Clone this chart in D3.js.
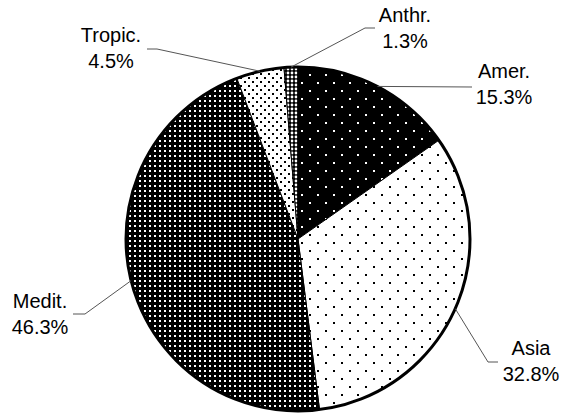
<!DOCTYPE html>
<html>
<head>
<meta charset="utf-8">
<script src="https://cdn.jsdelivr.net/npm/d3@7"></script>
<style>
  html, body { margin: 0; padding: 0; background: #fff; }
  svg { display: block; }
  text { font-family: "Liberation Sans", Arial, sans-serif; font-size: 20px; fill: #000; }
</style>
</head>
<body>
<script>
const categories = ["Amer.", "Asia", "Medit.", "Tropic.", "Anthr."];
const values = [15.3, 32.8, 46.3, 4.5, 1.3];
const valueLabels = ["15.3%", "32.8%", "46.3%", "4.5%", "1.3%"];

const W = 562, H = 417;
const cx = 298, cy = 239, R = 172;

const svg = d3.select("body").append("svg").attr("width", W).attr("height", H);
const defs = svg.append("defs");

function dotPattern(id, size, bg, fg, dots, dotSize) {
  const p = defs.append("pattern").attr("id", id).attr("patternUnits", "userSpaceOnUse")
    .attr("width", size[0]).attr("height", size[1]);
  p.append("rect").attr("width", size[0]).attr("height", size[1]).attr("fill", bg);
  dots.forEach(d => p.append("rect").attr("x", d[0]).attr("y", d[1])
    .attr("width", dotSize).attr("height", dotSize).attr("fill", fg));
}
dotPattern("pAmer", [16, 16], "#000", "#fff", [[3, 3], [11, 11]], 2);
dotPattern("pAsia", [16, 16], "#fff", "#000", [[3, 3], [11, 11]], 2);
dotPattern("pMedit", [5, 5], "#000", "#fff", [[1, 1]], 2);
dotPattern("pTropic", [8, 8], "#fff", "#000", [[2, 2], [6, 6]], 2);
(function () {
  const p = defs.append("pattern").attr("id", "pAnthr").attr("patternUnits", "userSpaceOnUse")
    .attr("width", 4).attr("height", 4);
  p.append("rect").attr("width", 4).attr("height", 4).attr("fill", "#000");
  p.append("circle").attr("cx", 2).attr("cy", 2).attr("r", 1.4).attr("fill", "#fff");
})();
const fills = ["url(#pAmer)", "url(#pAsia)", "url(#pMedit)", "url(#pTropic)", "url(#pAnthr)"];

const pie = d3.pie().sort(null).value(d => d)(values);
const arc = d3.arc().innerRadius(0).outerRadius(R);

const g = svg.append("g").attr("transform", `translate(${cx},${cy})`);
g.selectAll("path.slice").data(pie).join("path")
  .attr("class", "slice")
  .attr("d", arc)
  .attr("fill", (d, i) => fills[i])
  .attr("stroke", "#000").attr("stroke-width", 1);
g.append("circle").attr("r", R).attr("fill", "none").attr("stroke", "#000").attr("stroke-width", 3);

// label placement (pixel positions of label centers and leader elbows)
const labelPos = [
  { x: 504, y: 78, elbow: [472, 87], end: [472, 87], anchor: "middle" },
  { x: 531, y: 355, elbow: [488, 362], end: [498, 362], anchor: "middle" },
  { x: 40, y: 308, elbow: [85, 314], end: [73, 314], anchor: "middle" },
  { x: 111, y: 42, elbow: [157, 49], end: [147, 49], anchor: "middle" },
  { x: 405, y: 22, elbow: [365, 28], end: [375, 28], anchor: "middle" }
];

pie.forEach((d, i) => {
  const mid = (d.startAngle + d.endAngle) / 2;
  const px = cx + R * Math.sin(mid), py = cy - R * Math.cos(mid);
  const L = labelPos[i];
  svg.append("polyline")
    .attr("points", [[px, py], L.elbow, L.end].map(p => p.join(",")).join(" "))
    .attr("fill", "none").attr("stroke", "#555").attr("stroke-width", 1);
  const t = svg.append("text").attr("text-anchor", L.anchor);
  t.append("tspan").attr("x", L.x).attr("y", L.y).text(categories[i]);
  t.append("tspan").attr("x", L.x).attr("y", L.y + 26).text(valueLabels[i]);
});
</script>
</body>
</html>
